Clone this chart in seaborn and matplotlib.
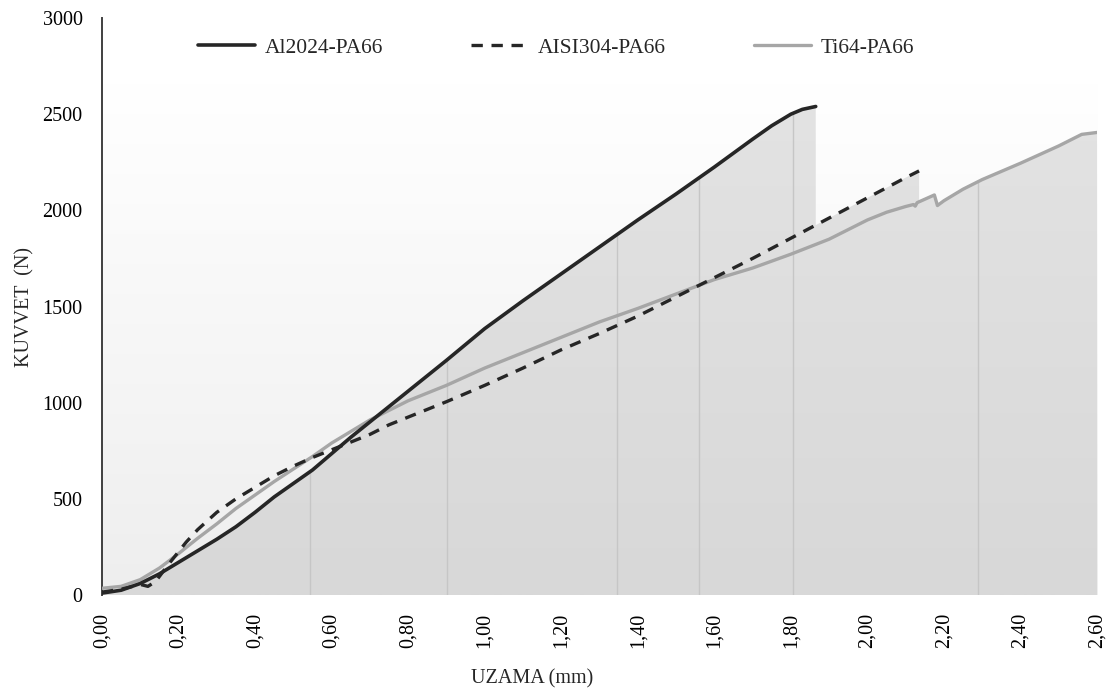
import numpy as np
import pandas as pd
import matplotlib
matplotlib.use("Agg")
import matplotlib.pyplot as plt
from matplotlib.colors import LinearSegmentedColormap
import seaborn as sns

# Tensile test curves: elongation (mm) vs. force (N)
al_x = [0.00, 0.05, 0.10, 0.15, 0.20, 0.25, 0.30, 0.35, 0.40, 0.45, 0.50, 0.55,
        0.60, 0.65, 0.70, 0.75, 0.80, 0.90, 1.00, 1.10, 1.20, 1.30, 1.40, 1.50,
        1.60, 1.70, 1.75, 1.80, 1.83, 1.865]
al_y = [10, 25, 60, 110, 170, 230, 290, 355, 430, 510, 580, 650,
        735, 820, 900, 980, 1060, 1220, 1385, 1530, 1670, 1810, 1950, 2085,
        2225, 2370, 2440, 2500, 2525, 2540]

aisi_x = [0.00, 0.05, 0.08, 0.10, 0.12, 0.14, 0.17, 0.20, 0.22, 0.25, 0.30, 0.35,
          0.40, 0.45, 0.50, 0.55, 0.60, 0.65, 0.70, 0.75, 0.80, 0.90, 1.00, 1.10,
          1.20, 1.30, 1.40, 1.50, 1.60, 1.70, 1.80, 1.90, 2.00, 2.10, 2.135]
aisi_y = [15, 30, 45, 55, 45, 70, 150, 225, 275, 340, 430, 500,
          560, 620, 670, 715, 755, 795, 835, 885, 925, 1005, 1090, 1180,
          1275, 1360, 1450, 1550, 1650, 1750, 1855, 1960, 2065, 2170, 2205]

ti_x = [0.00, 0.05, 0.10, 0.15, 0.20, 0.25, 0.30, 0.35, 0.40, 0.45, 0.50, 0.55,
        0.60, 0.65, 0.70, 0.75, 0.80, 0.90, 1.00, 1.10, 1.20, 1.30, 1.40, 1.50,
        1.60, 1.70, 1.80, 1.90, 2.00, 2.05, 2.10, 2.12, 2.125, 2.13, 2.175, 2.183,
        2.20, 2.25, 2.30, 2.40, 2.50, 2.56, 2.60]
ti_y = [35, 45, 80, 140, 215, 295, 370, 450, 520, 590, 655, 720,
        790, 850, 910, 960, 1010, 1090, 1180, 1260, 1340, 1420, 1490, 1565,
        1640, 1700, 1772, 1850, 1950, 1990, 2020, 2030, 2022, 2040, 2080, 2025,
        2050, 2110, 2160, 2245, 2335, 2395, 2405]

series_names = ["Al2024-PA66", "AISI304-PA66", "Ti64-PA66"]
drop_x = [0.544, 0.901, 1.345, 1.560, 1.805, 2.288]
x_ticks = np.round(np.arange(0, 2.61, 0.2), 2)
y_ticks = [0, 500, 1000, 1500, 2000, 2500, 3000]

df = pd.concat([
    pd.DataFrame({"x": al_x, "y": al_y, "seri": series_names[0]}),
    pd.DataFrame({"x": aisi_x, "y": aisi_y, "seri": series_names[1]}),
    pd.DataFrame({"x": ti_x, "y": ti_y, "seri": series_names[2]}),
])

sns.set_theme(style="white")
plt.rcParams["font.family"] = ["Liberation Serif", "DejaVu Serif"]

fig = plt.figure(figsize=(11.10, 6.93), dpi=100)
ax = fig.add_axes([0.0919, 0.1414, 0.8964, 0.8326])
ax.set_xlim(0, 2.6)
ax.set_ylim(0, 3000)

# plot-area background: soft vertical gradient
bg = LinearSegmentedColormap.from_list("bg", ["#eeeeee", "#ffffff"])
ax.imshow(np.linspace(0, 1, 256).reshape(-1, 1), cmap=bg, origin="lower",
          extent=[0, 2.6, 0, 2660], aspect="auto", zorder=0)

# shaded region under the outer curve (Al up to its failure, then AISI, then Ti)
al_end, aisi_end = al_x[-1], aisi_x[-1]
seg2 = [v for v in aisi_x if al_end < v <= aisi_end]
seg3 = [v for v in ti_x if v > aisi_end]
env_x = np.concatenate([np.array(al_x), [al_end + 1e-4], seg2,
                        [aisi_end + 1e-4], seg3])
env_y = np.concatenate([
    np.array(al_y, float),
    [np.interp(al_end, aisi_x, aisi_y)],
    np.interp(seg2, aisi_x, aisi_y),
    [np.interp(aisi_end, ti_x, ti_y)],
    np.interp(seg3, ti_x, ti_y),
])
poly = ax.fill_between(env_x, 0, env_y, facecolor="none", edgecolor="none", zorder=1)
fillmap = LinearSegmentedColormap.from_list("fill", ["#d8d8d8", "#e3e3e3"])
im = ax.imshow(np.linspace(0, 1, 256).reshape(-1, 1), cmap=fillmap, origin="lower",
               extent=[0, 2.6, 0, 2600], aspect="auto", zorder=1)
im.set_clip_path(poly.get_paths()[0], transform=ax.transData)

for xv in drop_x:
    ax.plot([xv, xv], [0, np.interp(xv, env_x, env_y)], color="#c6c6c6",
            lw=1.0, zorder=2)

styles = {
    series_names[0]: dict(color="#262626", lw=2.6, dashes=None),
    series_names[1]: dict(color="#262626", lw=2.4, dashes=(3.4, 2.6)),
    series_names[2]: dict(color="#a6a6a6", lw=2.4, dashes=None),
}
for name in [series_names[2], series_names[1], series_names[0]]:
    st = styles[name]
    sub = df[df["seri"] == name]
    sns.lineplot(x="x", y="y", data=sub, ax=ax, color=st["color"], lw=st["lw"],
                 label=name, sort=False, estimator=None, zorder=3)
    if st["dashes"] is not None:
        ax.lines[-1].set_dashes(st["dashes"])

# axes styling
for side in ["top", "right", "bottom"]:
    ax.spines[side].set_visible(False)
ax.spines["left"].set_color("#404040")
ax.spines["left"].set_linewidth(1.4)
ax.set_xticks(x_ticks)
ax.set_xticklabels([f"{v:.2f}".replace(".", ",") for v in x_ticks],
                   rotation=90, fontsize=14.5)
ax.set_yticks(y_ticks)
ax.set_yticklabels([str(v) for v in y_ticks], fontsize=14.5)
ax.tick_params(axis="x", length=0, pad=13, colors="#000000")
ax.tick_params(axis="y", length=0, pad=14, colors="#000000")
ax.grid(False)

ax.set_xlabel("UZAMA (mm)", fontsize=14.5)
ax.xaxis.set_label_coords(0.432, -0.128)
ax.set_ylabel("KUVVET  (N)", fontsize=14.5)
ax.yaxis.set_label_coords(-0.068, 0.5)

handles, labels = ax.get_legend_handles_labels()
order = [labels.index(n) for n in series_names]
handles = [handles[i] for i in order]
labels = [labels[i] for i in order]
if ax.get_legend():
    ax.get_legend().remove()
fig.legend(handles, labels, loc="center", bbox_to_anchor=(0.501, 0.931), ncol=3,
           frameon=False, fontsize=15.5, handlelength=2.65, handletextpad=0.45,
           columnspacing=4.1)

fig.savefig("out.png", dpi=100, facecolor="white")
